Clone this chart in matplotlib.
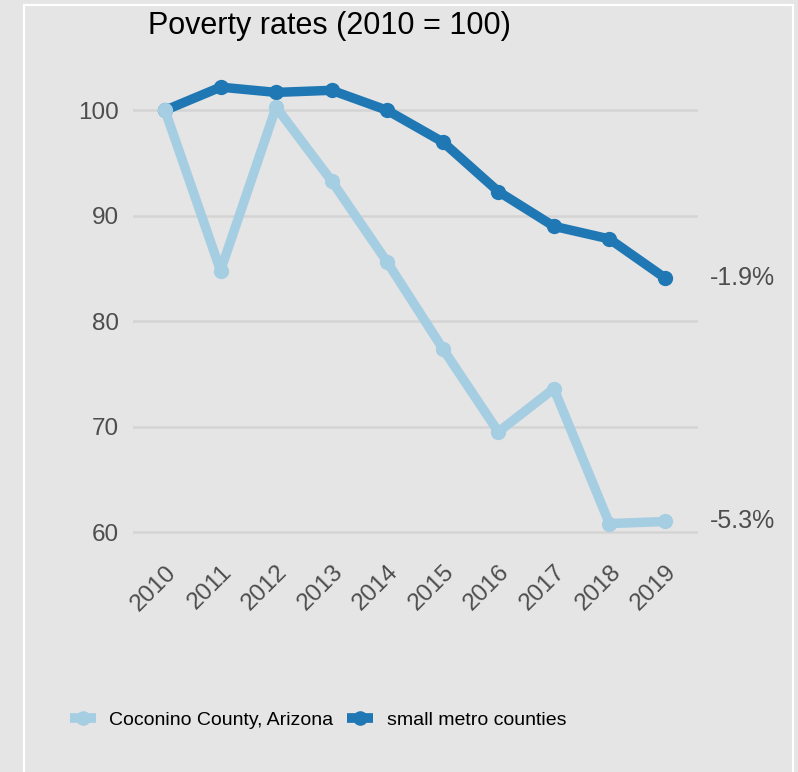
import matplotlib.pyplot as plt
from matplotlib.patches import Rectangle
from matplotlib.lines import Line2D

plt.rcParams['font.family'] = ['Liberation Sans', 'DejaVu Sans']

years = [2010, 2011, 2012, 2013, 2014, 2015, 2016, 2017, 2018, 2019]
coconino = [100.0, 84.8, 100.3, 93.3, 85.6, 77.4, 69.5, 73.6, 60.8, 61.0]
small_metro = [100.0, 102.2, 101.7, 101.9, 100.0, 97.0, 92.3, 89.0, 87.8, 84.1]
yticks = [60, 70, 80, 90, 100]
end_labels = ['-5.3%', '-1.9%']

light = '#a6cee3'
dark = '#1f78b4'
bg = '#e5e5e5'

fig = plt.figure(figsize=(7.98, 7.72), dpi=100, facecolor=bg)
fig.patches.append(Rectangle((24 / 798, -0.05), 769 / 798, 1.05 - 5 / 772,
                             transform=fig.transFigure, fill=False,
                             edgecolor='white', linewidth=1.6))

ax = fig.add_axes([133 / 798, 0.2767, 565 / 798, 0.635])
ax.set_facecolor(bg)
ax.set_xlim(2009.424, 2019.594)
ax.set_ylim(57.5, 104)

ax.plot(years, small_metro, color=dark, lw=6.8, marker='o', ms=10,
        solid_capstyle='round', label='small metro counties', zorder=3)
ax.plot(years, coconino, color=light, lw=6.8, marker='o', ms=10,
        solid_capstyle='round', label='Coconino County, Arizona', zorder=4)

ax.set_yticks(yticks)
ax.set_xticks(years)
ax.set_xticklabels([str(y) for y in years], rotation=45, ha='right',
                   rotation_mode='anchor')
ax.tick_params(axis='both', length=0, labelsize=17.5, labelcolor='#4d4d4d')
ax.tick_params(axis='x', pad=2)
ax.tick_params(axis='y', pad=10)
ax.grid(axis='y', color='#d4d4d4', lw=1.8)
ax.set_axisbelow(True)
for s in ax.spines.values():
    s.set_visible(False)

for val, lab in zip([coconino[-1], small_metro[-1]], end_labels):
    ax.text(years[-1] + 0.81, val, lab, ha='left', va='center',
            fontsize=18, color='#4d4d4d', clip_on=False)

fig.text(148 / 798, 1 - 26 / 772, 'Poverty rates (2010 = 100)', ha='left',
         va='center', fontsize=22, color='black')

handles = [Line2D([], [], color=light, lw=7, marker='o', ms=9.5,
                  solid_capstyle='butt'),
           Line2D([], [], color=dark, lw=7, marker='o', ms=9.5,
                  solid_capstyle='butt')]
fig.legend(handles, ['Coconino County, Arizona', 'small metro counties'],
           loc='center', bbox_to_anchor=(318 / 798, 1 - 720 / 772), ncol=2,
           frameon=False, fontsize=14, handlelength=1.35, handletextpad=0.7,
           columnspacing=0.7)

fig.savefig('out.png', dpi=100, facecolor=bg)
